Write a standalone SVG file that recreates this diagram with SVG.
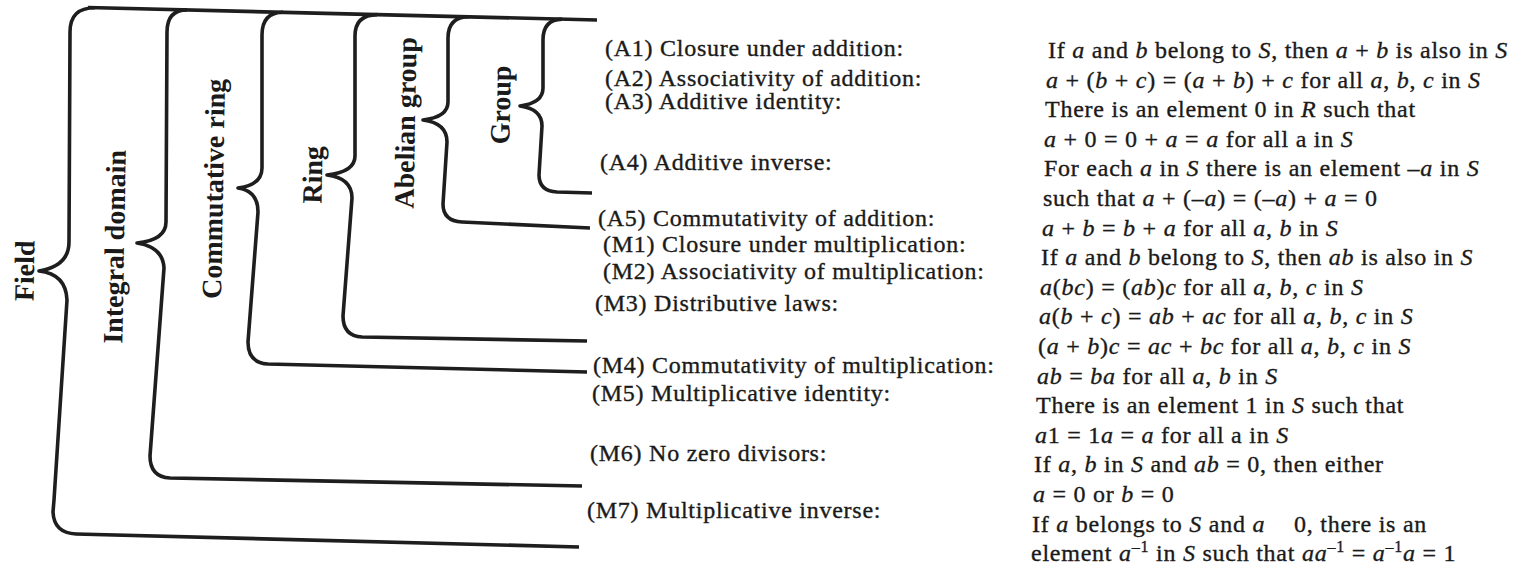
<svg xmlns="http://www.w3.org/2000/svg" width="1528" height="574" viewBox="0 0 1528 574">
<style>
.br{fill:none;stroke:#1e1e1e;stroke-width:3.6;stroke-linejoin:round;stroke-linecap:butt}
.lab{font-family:"Liberation Serif","Times New Roman",serif;font-weight:bold;font-size:28px;fill:#1a1a1a;text-anchor:middle}
.ax{font-family:"Liberation Serif","Times New Roman",serif;font-size:24px;letter-spacing:0.75px;fill:#1a1a1a;stroke:#1a1a1a;stroke-width:0.35px}
.i{font-style:italic}
.sup{font-size:16px}
</style>
<rect width="1528" height="574" fill="#ffffff"/>

<g id="connectors">
  <path id="top-line" class="br" d="M88,7.5 L597,20"/>
  <path id="brace-field" class="br" d="M95,7.7 Q70,7.6 70,32 L69,242 Q69,266 39,271 Q66,274 67,300 L54,500 L53,512 Q54,533 76,534 L579,547"/>
  <path id="brace-integral" class="br" d="M187,9.9 Q167,10 167,32 L166,222 Q166,240 137,243 Q163,247 164,268 L150,456 Q150,477 170,478 L582,486"/>
  <path id="brace-commring" class="br" d="M283,12.3 Q262,12.5 262,35 L262,168 Q262,185 238,188 Q258,191 258,212 L248,342 Q248,363 268,364 L587,372"/>
  <path id="brace-ring" class="br" d="M377,14.6 Q355,15 355,36 L355,156 Q355,172 327,175 Q352,178 352,198 L343,316 Q343,336 362,337 L587,341"/>
  <path id="brace-abelian" class="br" d="M469,16.8 Q448,17 448,38 L448,102 Q448,117 423,120 Q447,123 447,142 L443,204 Q443,221 462,222 L590,228"/>
  <path id="brace-group" class="br" d="M562,19.1 Q543,19.5 543,40 L543,88 Q543,103 520,106 Q542,109 542,126 L539,175 Q539,191 557,192 L592,193"/>
</g>

<g id="field"><text class="lab" transform="translate(34,271) rotate(-89)">Field</text></g>
<g id="integral-domain"><text class="lab" transform="translate(124,247) rotate(-89)">Integral domain</text></g>
<g id="commutative-ring"><text class="lab" transform="translate(223,189) rotate(-89)">Commutative ring</text></g>
<g id="ring"><text class="lab" transform="translate(322,175) rotate(-89)">Ring</text></g>
<g id="abelian-group"><text class="lab" transform="translate(415,123) rotate(-89)">Abelian group</text></g>
<g id="group"><text class="lab" transform="translate(510,105) rotate(-89)">Group</text></g>

<g id="axiom-names">
  <text class="ax" x="605" y="56">(A1) Closure under addition:</text>
  <text class="ax" x="605" y="86">(A2) Associativity of addition:</text>
  <text class="ax" x="605" y="109">(A3) Additive identity:</text>
  <text class="ax" x="600" y="170">(A4) Additive inverse:</text>
  <text class="ax" x="598" y="226">(A5) Commutativity of addition:</text>
  <text class="ax" x="603" y="252">(M1) Closure under multiplication:</text>
  <text class="ax" x="603" y="279">(M2) Associativity of multiplication:</text>
  <text class="ax" x="595" y="311">(M3) Distributive laws:</text>
  <text class="ax" x="593" y="373">(M4) Commutativity of multiplication:</text>
  <text class="ax" x="592" y="401">(M5) Multiplicative identity:</text>
  <text class="ax" x="590" y="461">(M6) No zero divisors:</text>
  <text class="ax" x="587" y="518">(M7) Multiplicative inverse:</text>
</g>

<g id="axiom-definitions">
  <text class="ax" x="1048" y="58">If <tspan class="i">a</tspan> and <tspan class="i">b</tspan> belong to <tspan class="i">S</tspan>, then <tspan class="i">a</tspan> + <tspan class="i">b</tspan> is also in <tspan class="i">S</tspan></text>
  <text class="ax" x="1046" y="87.6"><tspan class="i">a</tspan> + (<tspan class="i">b</tspan> + <tspan class="i">c</tspan>) = (<tspan class="i">a</tspan> + <tspan class="i">b</tspan>) + <tspan class="i">c</tspan> for all <tspan class="i">a</tspan>, <tspan class="i">b</tspan>, <tspan class="i">c</tspan> in <tspan class="i">S</tspan></text>
  <text class="ax" x="1045" y="117.2">There is an element 0 in <tspan class="i">R</tspan> such that</text>
  <text class="ax" x="1044" y="146.8"><tspan class="i">a</tspan> + 0 = 0 + <tspan class="i">a</tspan> = <tspan class="i">a</tspan> for all a in <tspan class="i">S</tspan></text>
  <text class="ax" x="1044" y="176.4">For each <tspan class="i">a</tspan> in <tspan class="i">S</tspan> there is an element –<tspan class="i">a</tspan> in <tspan class="i">S</tspan></text>
  <text class="ax" x="1043" y="206">such that <tspan class="i">a</tspan> + (–<tspan class="i">a</tspan>) = (–<tspan class="i">a</tspan>) + <tspan class="i">a</tspan> = 0</text>
  <text class="ax" x="1042" y="235.6"><tspan class="i">a</tspan> + <tspan class="i">b</tspan> = <tspan class="i">b</tspan> + <tspan class="i">a</tspan> for all <tspan class="i">a</tspan>, <tspan class="i">b</tspan> in <tspan class="i">S</tspan></text>
  <text class="ax" x="1041" y="265.2">If <tspan class="i">a</tspan> and <tspan class="i">b</tspan> belong to <tspan class="i">S</tspan>, then <tspan class="i">ab</tspan> is also in <tspan class="i">S</tspan></text>
  <text class="ax" x="1040" y="294.8"><tspan class="i">a</tspan>(<tspan class="i">bc</tspan>) = (<tspan class="i">ab</tspan>)<tspan class="i">c</tspan> for all <tspan class="i">a</tspan>, <tspan class="i">b</tspan>, <tspan class="i">c</tspan> in <tspan class="i">S</tspan></text>
  <text class="ax" x="1039" y="324.4"><tspan class="i">a</tspan>(<tspan class="i">b</tspan> + <tspan class="i">c</tspan>) = <tspan class="i">ab</tspan> + <tspan class="i">ac</tspan> for all <tspan class="i">a</tspan>, <tspan class="i">b</tspan>, <tspan class="i">c</tspan> in <tspan class="i">S</tspan></text>
  <text class="ax" x="1038" y="354">(<tspan class="i">a</tspan> + <tspan class="i">b</tspan>)<tspan class="i">c</tspan> = <tspan class="i">ac</tspan> + <tspan class="i">bc</tspan> for all <tspan class="i">a</tspan>, <tspan class="i">b</tspan>, <tspan class="i">c</tspan> in <tspan class="i">S</tspan></text>
  <text class="ax" x="1037" y="383.6"><tspan class="i">ab</tspan> = <tspan class="i">ba</tspan> for all <tspan class="i">a</tspan>, <tspan class="i">b</tspan> in <tspan class="i">S</tspan></text>
  <text class="ax" x="1036" y="413.2">There is an element 1 in <tspan class="i">S</tspan> such that</text>
  <text class="ax" x="1035" y="442.8"><tspan class="i">a</tspan>1 = 1<tspan class="i">a</tspan> = <tspan class="i">a</tspan> for all a in <tspan class="i">S</tspan></text>
  <text class="ax" x="1034" y="472.4">If <tspan class="i">a</tspan>, <tspan class="i">b</tspan> in <tspan class="i">S</tspan> and <tspan class="i">ab</tspan> = 0, then either</text>
  <text class="ax" x="1033" y="502"><tspan class="i">a</tspan> = 0 or <tspan class="i">b</tspan> = 0</text>
  <text class="ax" x="1032" y="531.6">If <tspan class="i">a</tspan> belongs to <tspan class="i">S</tspan> and <tspan class="i">a</tspan><tspan dx="22"> 0, there is an</tspan></text>
  <text class="ax" x="1031" y="561.2">element <tspan class="i">a</tspan><tspan class="sup" dy="-9">–1</tspan><tspan dy="9"> in </tspan><tspan class="i">S</tspan> such that <tspan class="i">aa</tspan><tspan class="sup" dy="-9">–1</tspan><tspan dy="9"> = </tspan><tspan class="i">a</tspan><tspan class="sup" dy="-9">–1</tspan><tspan class="i" dy="9">a</tspan> = 1</text>
</g>
</svg>
